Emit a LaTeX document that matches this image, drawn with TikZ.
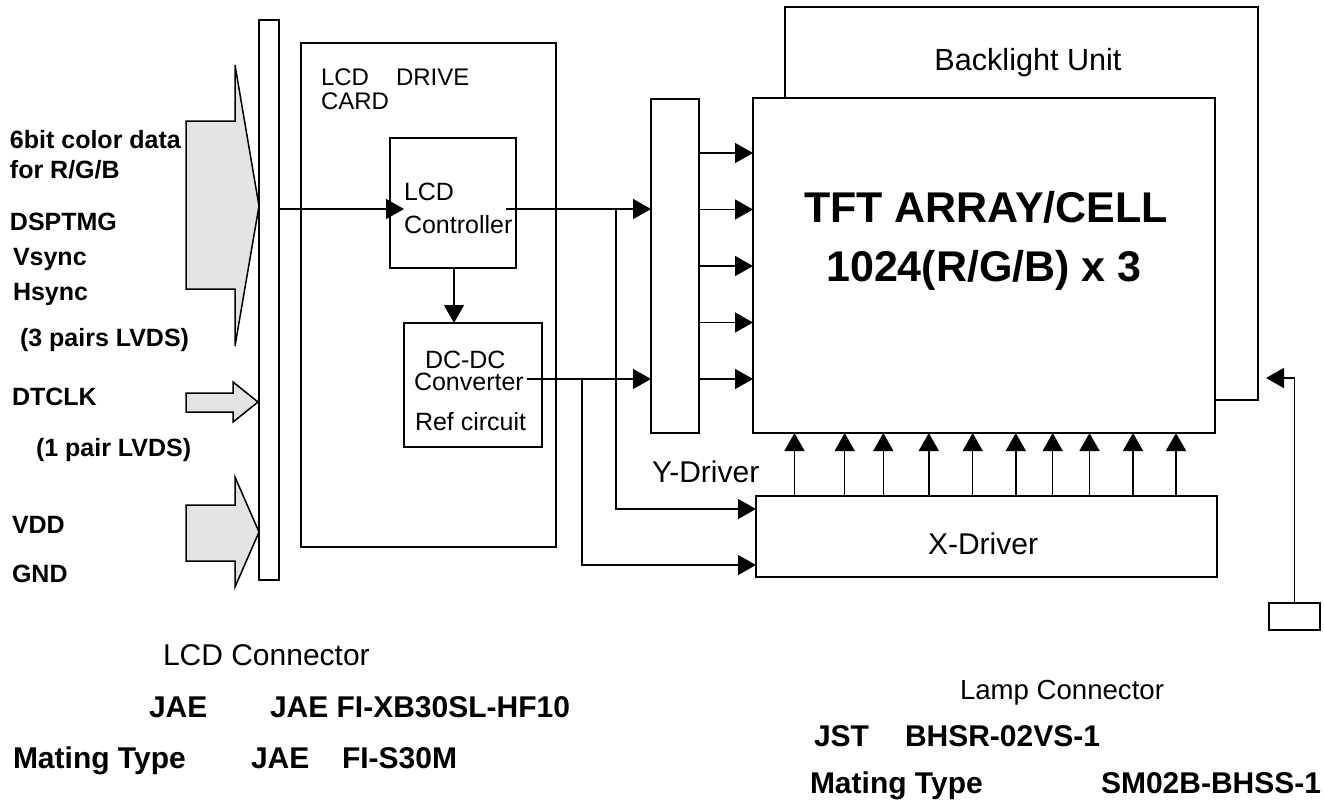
\documentclass[tikz,border=0pt]{standalone}
\usepackage{fontspec}
\setmainfont{Liberation Sans}
\usetikzlibrary{arrows.meta, positioning, calc}

\begin{document}
\begin{tikzpicture}[
  x=0.5pt, y=-0.5pt,
  every node/.style={inner sep=0pt, outer sep=0pt},
  box/.style={draw, line width=1.3pt, anchor=north west},
  thinbox/.style={draw, line width=0.75pt, anchor=north west},
  wire/.style={line width=0.75pt},
  sig/.style={wire, -{Triangle[length=9pt,width=10pt]}},
  fat/.style={draw, line width=0.75pt, fill=gray!22},
  lbl/.style={font=\fontsize{12.5}{15}\selectfont\bfseries, anchor=base west},
  txt/.style={font=\fontsize{12.5}{15}\selectfont, anchor=base west},
  big/.style={font=\fontsize{15}{18}\selectfont\bfseries, anchor=base west},
  bigtxt/.style={font=\fontsize{15}{18}\selectfont, anchor=base}
]
\useasboundingbox (0,0) rectangle (1324,805);

\node[thinbox, minimum width=10pt, minimum height=280pt] (conn) at (259,20) {};
\node[box, minimum width=127.5pt, minimum height=252pt] (card) at (301,43) {};
\node[box, minimum width=63pt, minimum height=65pt] (ctrl) at (390,138) {};
\node[box, minimum width=69pt, minimum height=62pt] (dcdc) at (404,323) {};
\node[box, minimum width=24pt, minimum height=167pt] (ydrv) at (651,99) {};
\node[box, minimum width=231pt, minimum height=167.5pt] (tft) at (753,98) {};
\node[box, minimum width=230.5pt, minimum height=40.5pt] (xdrv) at (756,496) {};
\node[thinbox, minimum width=25.5pt, minimum height=13.5pt] (lamp) at (1269,603) {};

\draw[fat] (186,121) -- (235,121) -- (235,65) -- (259,206) -- (235,346) -- (235,289) -- (186,289) -- cycle;
\draw[fat] (186,393) -- (233,393) -- (233,382) -- (258,402) -- (233,422) -- (233,412) -- (186,412) -- cycle;
\draw[fat] (186,505) -- (235,505) -- (235,477) -- (259,532) -- (235,587) -- (235,561) -- (186,561) -- cycle;

\node[lbl] (l1) at (10,148) {6bit color data};
\node[lbl] (l2) at (10,178) {for R/G/B};
\node[lbl] (l3) at (10,230) {DSPTMG};
\node[lbl] (l4) at (13,265) {Vsync};
\node[lbl] (l5) at (13,300) {Hsync};
\node[lbl] (l6) at (20,346) {(3 pairs LVDS)};
\node[lbl] (l7) at (12,405) {DTCLK};
\node[lbl] (l8) at (36,456) {(1 pair LVDS)};
\node[lbl] (l9) at (12,533) {VDD};
\node[lbl] (l10) at (12,582) {GND};

\node[txt, font=\fontsize{12}{12}\selectfont] (cardt1) at (321,85) {LCD\hspace{13.5pt}DRIVE};
\node[txt, font=\fontsize{12}{12}\selectfont] (cardt2) at (321,109) {CARD};
\node[txt] (ctrlt1) at (404,200) {LCD};
\node[txt] (ctrlt2) at (404,233) {Controller};
\node[txt] (dcdct1) at (425,368) {DC-DC};
\node[txt] (dcdct2) at (414,390) {Converter};
\node[txt] (dcdct3) at (415,430) {Ref circuit};

\node[anchor=base, font=\fontsize{21.5}{25}\selectfont\bfseries] (tftt1) at (986,222) {TFT ARRAY/CELL};
\node[anchor=base, font=\fontsize{21.5}{25}\selectfont\bfseries] (tftt2) at (984,281) {1024(R/G/B) x 3};
\node[bigtxt, font=\fontsize{15.3}{18}\selectfont] (blu) at (1028,70) {Backlight Unit};
\node[bigtxt] (xdrvt) at (983,554) {X-Driver};
\node[bigtxt, anchor=base west] (ydrvt) at (652,482) {Y-Driver};

\coordinate (ctrlin) at (404,209);
\coordinate (ctrlout) at (506,209);
\coordinate (dcdcout) at (527,379);
\coordinate (br1) at (616,209);
\coordinate (br2) at (582,379);
\coordinate (lampin) at (1266,378);

\draw[sig] (conn.east |- ctrlin) -- (ctrlin);
\draw[sig] (ctrlout) -- (ctrlout -| ydrv.west);
\draw[sig] (dcdcout) -- (dcdcout -| ydrv.west);
\draw[sig] (ctrl.south -| 454,0) -- (dcdc.north -| 454,0);
\draw[sig] (br1) |- ([yshift=-6.5pt]xdrv.north west);
\draw[sig] (br2) |- ([yshift=6pt]xdrv.south west);
\foreach \y in {153,209.5,266,322.5,379}
  \draw[sig] (ydrv.east |- 0,\y) -- (tft.west |- 0,\y);
\foreach \x in {794.5,844.7,883.3,928.8,972.7,1015.8,1052.7,1089.5,1133,1176}
  \draw[sig] (xdrv.north -| \x,0) -- (tft.south -| \x,0);
\draw[wire] (tft.north -| 785,0) -- (785,7) -- (1258,7) -- (1258,400) -- (tft.east |- 0,400);
\draw[sig] (lamp.north) |- (lampin);

\node[bigtxt, anchor=base west] (lcdc) at (163,665) {LCD Connector};
\node[big] (jae1) at (149,717) {JAE};
\node[big] (jae2) at (270,717) {JAE FI-XB30SL-HF10};
\node[big] (mt1) at (13,768) {Mating Type};
\node[big] (jae3) at (251,768) {JAE};
\node[big] (fis) at (342,768) {FI-S30M};

\node[bigtxt, font=\fontsize{13.8}{16}\selectfont, anchor=base west] (lampc) at (960,699) {Lamp Connector};
\node[big] (jst) at (814,746) {JST};
\node[big] (bhsr) at (905,746) {BHSR-02VS-1};
\node[big] (mt2) at (810,793) {Mating Type};
\node[big] (sm02) at (1101,793) {SM02B-BHSS-1};
\end{tikzpicture}
\end{document}
